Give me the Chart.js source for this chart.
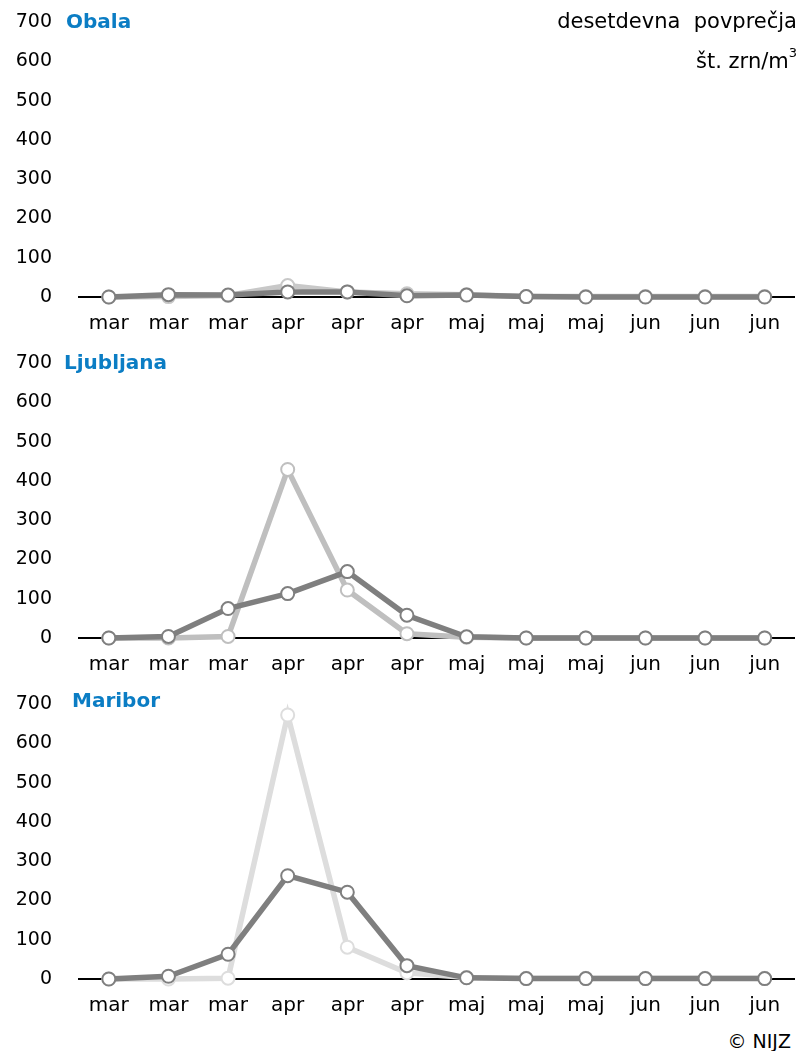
<!doctype html>
<html lang="sl">
<head>
  <meta charset="utf-8" />
  <title>Desetdevna povprečja</title>
  <script src="https://cdn.jsdelivr.net/npm/chart.js@4.4.1/dist/chart.umd.min.js"></script>
  <style>
    *{box-sizing:border-box;margin:0;padding:0}
    body{width:803px;height:1051px;background:#fff;position:relative;overflow:hidden;
      font-family:"DejaVu Sans",sans-serif;color:#000}
    .panel{position:absolute;left:0;width:803px;height:341px}
    .panel canvas{width:803px!important;height:341px!important}
    #unit{position:absolute;right:6px;top:1px;text-align:right;font-size:21px;line-height:40px;white-space:pre}
    #unit sup{font-size:13px;vertical-align:top;line-height:24px}
    #copy{position:absolute;right:12px;top:1030px;font-size:19px}
  </style>
</head>
<body>

  <div class="panel" style="top:0"><canvas id="c1"></canvas></div>
  <div class="panel" style="top:341px"><canvas id="c2"></canvas></div>
  <div class="panel" style="top:682px"><canvas id="c3"></canvas></div>

  <div id="unit">desetdevna  povprečja<br>št. zrn/m<sup>3</sup></div>
  <div id="copy">© NIJZ</div>

  <script>
    /* ===== podatki ===== */
    const labels = ['mar','mar','mar','apr','apr','apr','maj','maj','maj','jun','jun','jun'];
    const yTicks = [0, 100, 200, 300, 400, 500, 600, 700];

    const obalaLight = [0, 1, 4, 29, 13, 8, 6, 1, 1, 1, 1, 1];
    const obalaDark  = [0, 6, 5, 13, 13, 3, 5, 1, 0, 0, 0, 0];

    const ljLight = [0, 0, 4, 429, 122, 11, 2, 0, 0, 0, 0, 0];
    const ljDark  = [0, 4, 75, 113, 169, 58, 3, 0, 0, 0, 0, 0];

    const mbLight = [0, 0, 2, 672, 81, 16, 4, 2, 2, 2, 2, 2];
    const mbDark  = [0, 7, 63, 263, 221, 34, 3, 1, 1, 1, 1, 1];

    const DARK = '#7f7f7f';

    /* ===== naslov panela (levo zgoraj) ===== */
    const panelTitle = {
      id: 'panelTitle',
      afterDraw(chart, args, opts){
        const ctx = chart.ctx;
        ctx.save();
        ctx.font = 'bold 20px "DejaVu Sans", sans-serif';
        ctx.fillStyle = '#0b7dc4';
        ctx.textBaseline = 'middle';
        ctx.fillText(opts.text, opts.x, chart.chartArea.top + opts.dy);
        ctx.restore();
      }
    };

    function makeChart(id, title, tx, dy, light, dark, lightColor){
      const ctx = document.getElementById(id).getContext('2d');
      return new Chart(ctx, {
        type: 'line',
        data: {
          labels: labels,
          datasets: [
            { data: dark, borderColor: DARK, borderWidth: 5.5,
              pointRadius: 6.5, pointBorderWidth: 2,
              pointBackgroundColor: '#fff', pointBorderColor: DARK, clip: false },
            { data: light, borderColor: lightColor, borderWidth: 5.5,
              pointRadius: 6.5, pointBorderWidth: 2,
              pointBackgroundColor: '#fff', pointBorderColor: lightColor, clip: false }
          ]
        },
        options: {
          responsive: false,
          animation: false,
          layout: { padding: { top: 22, right: 0, bottom: 0, left: 0 } },
          plugins: {
            legend: { display: false },
            tooltip: { enabled: false },
            panelTitle: { text: title, x: tx, dy: dy }
          },
          scales: {
            x: {
              offset: true,
              grid: { display: false, drawTicks: false },
              border: { display: true, color: '#000', width: 2 },
              ticks: { color: '#000', padding: 15, maxRotation: 0, autoSkip: false,
                font: { family: '"DejaVu Sans", sans-serif', size: 20 } },
              afterFit: s => { s.height = 44; s.paddingLeft = 0; s.paddingRight = 0; }
            },
            y: {
              min: 0, max: 700,
              grid: { display: false, drawTicks: false },
              border: { display: false },
              afterBuildTicks: s => { s.ticks = yTicks.map(v => ({ value: v })); },
              ticks: { color: '#000', padding: 27,
                font: { family: '"DejaVu Sans", sans-serif', size: 19 } },
              afterFit: s => { s.width = 79; s.paddingTop = 0; s.paddingBottom = 0; }
            }
          }
        },
        plugins: [panelTitle]
      });
    }

    document.addEventListener('DOMContentLoaded', function(){
      const cv = document.querySelectorAll('canvas');
      cv.forEach(c => { c.width = 803; c.height = 341; });
      makeChart('c1', 'Obala', 66, 1, obalaLight, obalaDark, '#c8c8c8');
      makeChart('c2', 'Ljubljana', 64, 1, ljLight, ljDark, '#bfbfbf');
      makeChart('c3', 'Maribor', 72, -2, mbLight, mbDark, '#dddddd');
    });
  </script>
</body>
</html>
